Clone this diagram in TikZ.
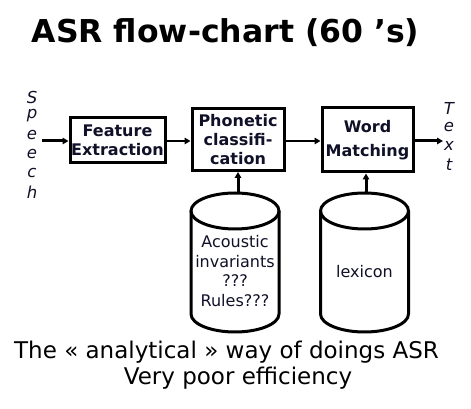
\documentclass[tikz,border=0pt]{standalone}
\usepackage{fontspec}
\setmainfont{DejaVu Sans}
\usetikzlibrary{arrows.meta}
\definecolor{inkc}{HTML}{101028}
\begin{document}
\begin{tikzpicture}[x=1pt,y=1pt,
  box/.style={draw=black,line width=3pt,align=center,inner sep=0pt,
    font=\bfseries\fontsize{16}{19}\selectfont,text=inkc},
  flow/.style={line width=2.2pt,-{Triangle[length=6pt,width=6.5pt]}},
  cyl/.style={draw=black,line width=3pt},
  lett/.style={font=\itshape\fontsize{16.5}{19}\selectfont,text=inkc,inner sep=0pt},
  cyltext/.style={align=center,font=\fontsize{16}{19.5}\selectfont,text=inkc},
  caption/.style={font=\fontsize{23}{27}\selectfont,text=black}]
\useasboundingbox (0,0) rectangle (471,409);
% title
\node[font=\bfseries\fontsize{31.5}{36}\selectfont] (title) at (225.5,376) {ASR flow-chart (60 ’s)};
% Speech letters
\foreach \c/\yy [count=\i] in {S/312,p/293,e/274,e/255,c/236,h/217}
  \node[lett] (sp\i) at (32,\yy) {\c};
% Text letters
\foreach \c/\yy [count=\i] in {T/301,e/282,x/263,t/244}
  \node[lett] (tx\i) at (449,\yy) {\c};
% boxes
\node[box,minimum width=95pt,minimum height=45pt] (fe) at (117.5,268.5) {Feature\\Extraction};
\node[box,minimum width=92pt,minimum height=62pt] (pc) at (238,269.5) {Phonetic\\classifi-\\cation};
\node[box,minimum width=91pt,minimum height=64pt] (wm) at (367.5,269) {Word\\[5pt]Matching};
% free ends
\coordinate (sin) at (42,268);
\coordinate (tout) at (443,268);
\coordinate (c1top) at (238,216);
\coordinate (c2top) at (366,216);
% cylinders
\draw[cyl] (191,198) -- (191,95) arc[start angle=180,end angle=360,x radius=44pt,y radius=18pt] -- (279,198);
\draw[cyl] (235,198) ellipse[x radius=44pt,y radius=18pt];
\draw[cyl] (320.5,198) -- (320.5,95) arc[start angle=180,end angle=360,x radius=44pt,y radius=18pt] -- (408.5,198);
\draw[cyl] (364.5,198) ellipse[x radius=44pt,y radius=18pt];
\node[cyltext] (c1txt) at (235,138) {Acoustic\\invariants\\???\\Rules???};
\node[cyltext] (c2txt) at (364.5,137) {lexicon};
% connectors
\draw[flow,line width=3pt] (sin) -- (sin -| fe.west);
\draw[flow] (fe.east |- sin) -- (sin -| pc.west);
\draw[flow] (pc.east |- sin) -- (sin -| wm.west);
\draw[flow,line width=3pt] (wm.east |- tout) -- (tout);
\draw[flow,line width=3pt] (c1top) -- (c1top |- pc.south);
\draw[flow,line width=3pt] (c2top) -- (c2top |- wm.south);
% captions
\node[caption] (cap1) at (226.5,57) {The « analytical » way of doings ASR};
\node[caption] (cap2) at (238,31) {Very poor efficiency};
\end{tikzpicture}
\end{document}
